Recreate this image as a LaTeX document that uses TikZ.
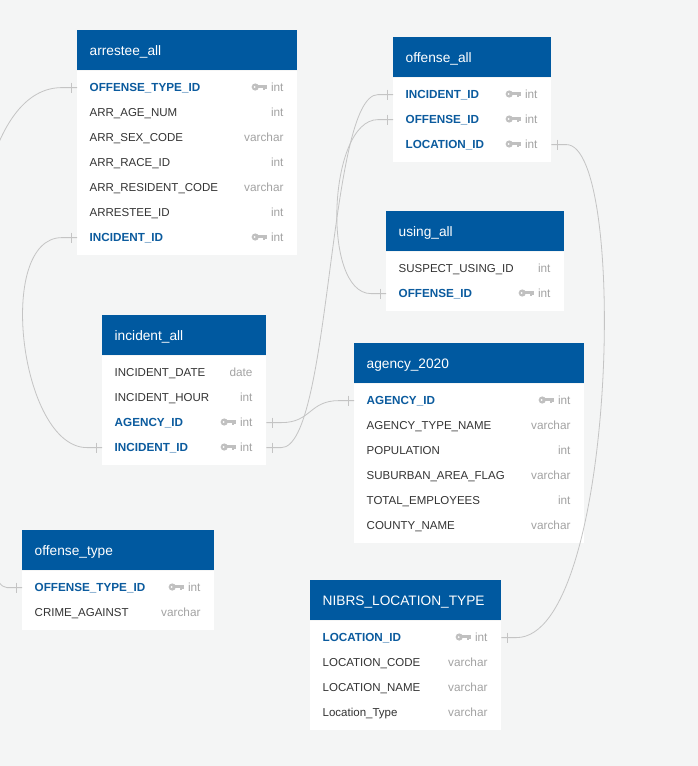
\documentclass[tikz,border=0pt]{standalone}
\usepackage{fontspec}
\setmainfont{Liberation Sans}
\definecolor{bgc}{HTML}{F4F5F5}
\definecolor{hdrblue}{HTML}{0059A0}
\definecolor{pkblue}{HTML}{0B5B9E}
\definecolor{fldgray}{HTML}{333333}
\definecolor{typgray}{HTML}{A3A3A3}
\definecolor{keygray}{HTML}{C0C0C0}
\definecolor{linegray}{HTML}{C4C4C4}
\tikzset{
  hdrbox/.style={fill=hdrblue, draw=none, inner sep=0pt, minimum height=40pt},
  bodybox/.style={fill=white, draw=none, inner sep=0pt},
  rowbox/.style={draw=none, inner sep=0pt, minimum height=25pt},
  ttl/.style={inner sep=0pt, text=white, font=\fontsize{13.7}{16}\selectfont},
  pk/.style={inner sep=0pt, text=pkblue, font=\fontsize{11.7}{14}\selectfont\bfseries},
  fld/.style={inner sep=0pt, text=fldgray, font=\fontsize{11.5}{14}\selectfont},
  typ/.style={inner sep=0pt, text=typgray, font=\fontsize{11.8}{14}\selectfont},
  conn/.style={draw=linegray, line width=0.8pt},
  tickmark/.style={draw=linegray, line width=0.8pt},
}
\newcommand\ertable[6]{%
  \pgfmathsetmacro\tw{#3-#2}%
  \node[hdrbox, minimum width=\tw pt, anchor=north west] (#1) at (#2,#4) {};
  \node[ttl, anchor=base west] at ([xshift=12.5pt,yshift=-5pt]#1.west) {#5};
  \node[bodybox, minimum width=\tw pt, minimum height={(25*#6+9)*1pt}, anchor=north west] (#1-body) at (#1.south west) {};
}
\newcommand\errow[5]{%
  \node[rowbox, minimum width=\tw pt, anchor=north west] (#1-#2) at ([yshift={-(4.5+25*(#2-1))*1pt}]#1.south west) {};
  \node[#5, anchor=base west] at ([xshift=12.5pt,yshift=-3.8pt]#1-#2.west) {#3};
  \node[typ, anchor=base east] (#1-#2-t) at ([xshift=-13.7pt,yshift=-3.8pt]#1-#2.east) {#4};
}
\newcommand\pkey[1]{%
  \begin{scope}[shift={(#1-t.base west)}]
    \fill[keygray] (-15.6,-4.4) circle (3.6pt);
    \fill[white] (-16.1,-4.4) circle (1.0pt);
    \fill[keygray] (-13,-6.0) rectangle (-3.8,-3.1);
    \fill[keygray] (-8.2,-3.3) rectangle (-6.2,-1.6);
    \fill[keygray] (-5.6,-3.3) rectangle (-3.8,-2.0);
  \end{scope}
}
\newcommand\lend[1]{\draw[tickmark] ([xshift=-6pt,yshift=5pt]#1.west) -- ([xshift=-6pt,yshift=-5pt]#1.west);}
\newcommand\rend[1]{\draw[tickmark] ([xshift=6pt,yshift=5pt]#1.east) -- ([xshift=6pt,yshift=-5pt]#1.east);}
\begin{document}
\begin{tikzpicture}[x=1pt,y=-1pt]
\fill[bgc] (0,0) rectangle (698,766);
\useasboundingbox (0,0) rectangle (698,766);
\clip (0,0) rectangle (698,766);

% arrestee_all
\ertable{arr}{77}{297}{30}{arrestee\_all}{7}
\errow{arr}{1}{OFFENSE\_TYPE\_ID}{int}{pk}\pkey{arr-1}
\errow{arr}{2}{ARR\_AGE\_NUM}{int}{fld}
\errow{arr}{3}{ARR\_SEX\_CODE}{varchar}{fld}
\errow{arr}{4}{ARR\_RACE\_ID}{int}{fld}
\errow{arr}{5}{ARR\_RESIDENT\_CODE}{varchar}{fld}
\errow{arr}{6}{ARRESTEE\_ID}{int}{fld}
\errow{arr}{7}{INCIDENT\_ID}{int}{pk}\pkey{arr-7}

% offense_all
\ertable{oa}{393}{551}{37}{offense\_all}{3}
\errow{oa}{1}{INCIDENT\_ID}{int}{pk}\pkey{oa-1}
\errow{oa}{2}{OFFENSE\_ID}{int}{pk}\pkey{oa-2}
\errow{oa}{3}{LOCATION\_ID}{int}{pk}\pkey{oa-3}

% using_all
\ertable{ua}{386}{564}{211}{using\_all}{2}
\errow{ua}{1}{SUSPECT\_USING\_ID}{int}{fld}
\errow{ua}{2}{OFFENSE\_ID}{int}{pk}\pkey{ua-2}

% incident_all
\ertable{ia}{102}{266}{315}{incident\_all}{4}
\errow{ia}{1}{INCIDENT\_DATE}{date}{fld}
\errow{ia}{2}{INCIDENT\_HOUR}{int}{fld}
\errow{ia}{3}{AGENCY\_ID}{int}{pk}\pkey{ia-3}
\errow{ia}{4}{INCIDENT\_ID}{int}{pk}\pkey{ia-4}

% agency_2020
\ertable{ag}{354}{584}{343}{agency\_2020}{6}
\errow{ag}{1}{AGENCY\_ID}{int}{pk}\pkey{ag-1}
\errow{ag}{2}{AGENCY\_TYPE\_NAME}{varchar}{fld}
\errow{ag}{3}{POPULATION}{int}{fld}
\errow{ag}{4}{SUBURBAN\_AREA\_FLAG}{varchar}{fld}
\errow{ag}{5}{TOTAL\_EMPLOYEES}{int}{fld}
\errow{ag}{6}{COUNTY\_NAME}{varchar}{fld}

% offense_type
\ertable{ot}{22}{214}{530}{offense\_type}{2}
\errow{ot}{1}{OFFENSE\_TYPE\_ID}{int}{pk}\pkey{ot-1}
\errow{ot}{2}{CRIME\_AGAINST}{varchar}{fld}

% NIBRS_LOCATION_TYPE
\ertable{nl}{310}{501}{580}{NIBRS\_LOCATION\_TYPE}{4}
\errow{nl}{1}{LOCATION\_ID}{int}{pk}\pkey{nl-1}
\errow{nl}{2}{LOCATION\_CODE}{varchar}{fld}
\errow{nl}{3}{LOCATION\_NAME}{varchar}{fld}
\errow{nl}{4}{Location\_Type}{varchar}{fld}

% connectors
\draw[conn] (arr-1.west) -- ++(-15,0) .. controls +(-135,0) and +(-45,0) .. ([xshift=-15pt]ot-1.west) -- (ot-1.west);
\lend{arr-1}\lend{ot-1}
\draw[conn] (arr-7.west) -- ++(-15,0) .. controls +(-67,0) and +(-67,0) .. ([xshift=-15pt]ia-4.west) -- (ia-4.west);
\lend{arr-7}\lend{ia-4}
\draw[conn] (ia-4.east) -- ++(15,0) .. controls +(50,0) and +(-50,0) .. ([xshift=-15pt]oa-1.west) -- (oa-1.west);
\rend{ia-4}\lend{oa-1}
\draw[conn] (oa-2.west) -- ++(-15,0) .. controls +(-50,0) and +(-50,0) .. ([xshift=-15pt]ua-2.west) -- (ua-2.west);
\lend{oa-2}\lend{ua-2}
\draw[conn] (ia-3.east) -- ++(15,0) .. controls +(30,0) and +(-30,0) .. ([xshift=-15pt]ag-1.west) -- (ag-1.west);
\rend{ia-3}\lend{ag-1}
\draw[conn] (oa-3.east) -- ++(15,0) .. controls +(62,0) and +(100,0) .. ([xshift=15pt]nl-1.east) -- (nl-1.east);
\rend{oa-3}\rend{nl-1}
\end{tikzpicture}
\end{document}
